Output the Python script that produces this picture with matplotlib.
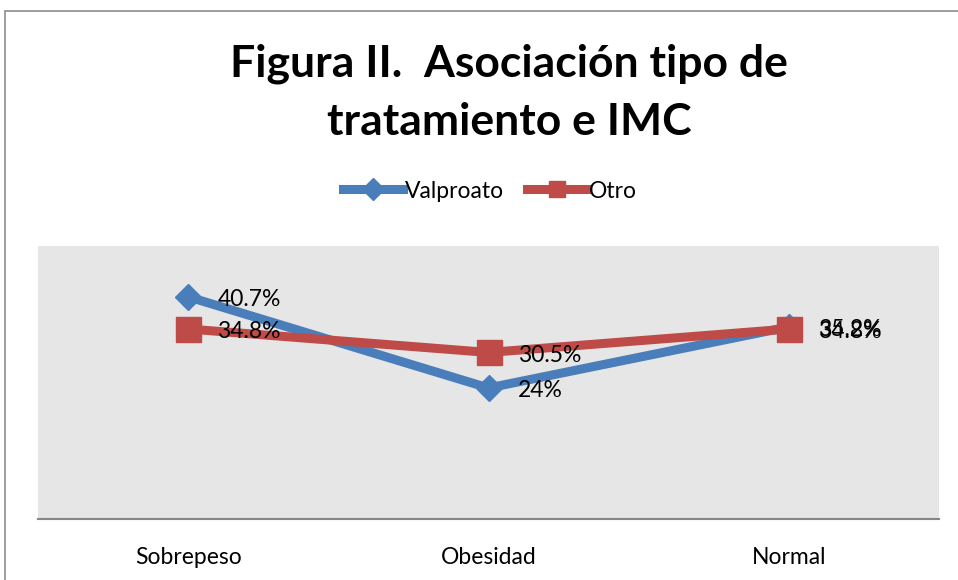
import matplotlib
matplotlib.use("Agg")
import matplotlib.pyplot as plt
from matplotlib.patches import Rectangle

# Data
categories = ["Sobrepeso", "Obesidad", "Normal"]
series_names = ["Valproato", "Otro"]
valproato = [40.7, 24.0, 35.2]
otro = [34.8, 30.5, 34.8]
valproato_labels = ["40.7%", "24%", "35.2%"]
otro_labels = ["34.8%", "30.5%", "34.8%"]

BLUE = "#4A7EBB"
RED = "#BE4B48"

plt.rcParams["font.family"] = ["Lato", "DejaVu Sans"]

W, H = 958, 580
fig = plt.figure(figsize=(W / 100, H / 100), dpi=100)

# outer chart frame (cut off on right and bottom)
fig.patches.append(Rectangle((5 / W, -0.1), 1.2, (H - 11) / H + 0.1,
                             transform=fig.transFigure, fill=False,
                             edgecolor="#8C8C8C", linewidth=1.2))

ax = fig.add_axes([38 / W, (H - 519) / H, (939 - 38) / W, (519 - 246) / H])
ax.set_facecolor("#E6E6E6")
x = list(range(len(categories)))

l1, = ax.plot(x, valproato, color=BLUE, lw=6.5, marker="D", markersize=13,
              solid_joinstyle="miter", zorder=3, label=series_names[0])
l2, = ax.plot(x, otro, color=RED, lw=6.5, marker="s", markersize=18,
              solid_joinstyle="miter", zorder=4, label=series_names[1])

for xi, v, lab in zip(x, valproato, valproato_labels):
    ax.annotate(lab, (xi, v), xytext=(21, -2), textcoords="offset points",
                ha="left", va="center", fontsize=16.5, color="black", zorder=5)
for xi, v, lab in zip(x, otro, otro_labels):
    ax.annotate(lab, (xi, v), xytext=(21, -2), textcoords="offset points",
                ha="left", va="center", fontsize=16.5, color="black", zorder=5)

ax.set_xlim(-0.5, 2.5)
ax.set_ylim(0, 50)
ax.set_yticks([])
ax.set_xticks(x)
ax.set_xticklabels(categories, fontsize=16.5)
ax.tick_params(axis="x", length=0, pad=20)
for side in ["top", "left", "right"]:
    ax.spines[side].set_visible(False)
ax.spines["bottom"].set_color("#868686")
ax.spines["bottom"].set_linewidth(1.5)

fig.text(509 / W, 1 - 64 / H, "Figura II.  Asociación tipo de",
         ha="center", va="center", fontsize=32, fontweight="bold")
fig.text(509 / W, 1 - 122 / H, "tratamiento e IMC",
         ha="center", va="center", fontsize=32, fontweight="bold")

leg = fig.legend(handles=[l1, l2], loc="center",
                 bbox_to_anchor=(490 / W, 1 - 191 / H),
                 ncol=2, frameon=False, fontsize=16.5, handlelength=2.6,
                 handletextpad=0.1, columnspacing=1.0)
for h in leg.legend_handles:
    h.set_markersize(11)

fig.savefig("out.png", dpi=100)
